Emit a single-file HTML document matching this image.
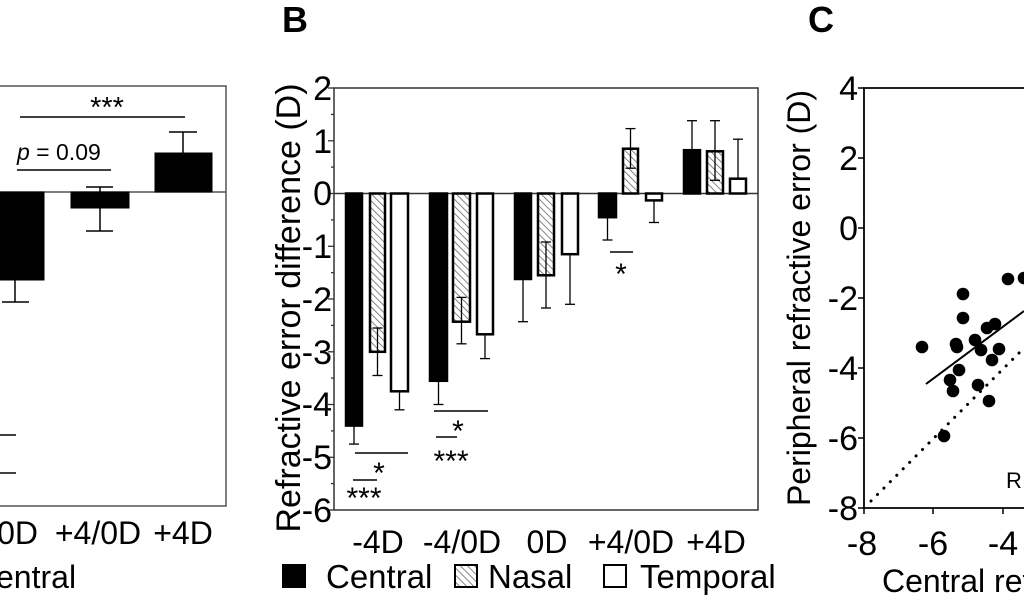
<!DOCTYPE html>
<html><head><meta charset="utf-8"><style>
html,body{margin:0;padding:0;background:#fff;}
svg{display:block;font-family:"Liberation Sans",Arial,sans-serif;}
</style></head><body>
<svg width="1024" height="600" viewBox="0 0 1024 600" xmlns="http://www.w3.org/2000/svg">
<defs>
<pattern id="h" patternUnits="userSpaceOnUse" width="5" height="5" patternTransform="rotate(-45)">
<rect width="5" height="5" fill="#fff"/><line x1="0" y1="0" x2="0" y2="5" stroke="#666" stroke-width="1.6"/>
</pattern>
</defs>
<rect width="1024" height="600" fill="#fff"/>

<!-- Panel A -->
<g stroke="#555" stroke-width="1.5" fill="none">
<polyline points="0,86 226,86 226,506 0,506"/>
<line x1="0" y1="192" x2="226" y2="192"/>
</g>
<g fill="#000" stroke="#000">
<rect x="0" y="192" width="44" height="88"/>
<rect x="71" y="192" width="58" height="16"/>
<rect x="155" y="153" width="57" height="39"/>
</g>
<g stroke="#000" stroke-width="1.5">
<line x1="15" y1="280" x2="15" y2="302"/><line x1="2" y1="302" x2="29" y2="302"/>
<line x1="100" y1="208" x2="100" y2="231"/><line x1="86" y1="231" x2="113" y2="231"/>
<line x1="100" y1="192" x2="100" y2="187"/><line x1="86" y1="187" x2="113" y2="187"/>
<line x1="183" y1="153" x2="183" y2="132"/><line x1="169" y1="132" x2="197" y2="132"/>
<line x1="20" y1="117" x2="185" y2="117"/>
<line x1="17" y1="170" x2="111" y2="170"/>
<line x1="0" y1="435" x2="16" y2="435"/>
<line x1="0" y1="473" x2="16" y2="473"/>
</g>
<text x="107" y="117" font-size="29" text-anchor="middle">***</text>
<text x="17" y="160" font-size="23"><tspan font-style="italic">p</tspan> = 0.09</text>
<text x="38" y="544" font-size="32" text-anchor="end">0D</text>
<text x="98" y="544" font-size="32" text-anchor="middle">+4/0D</text>
<text x="183" y="544" font-size="32" text-anchor="middle">+4D</text>
<text x="-4" y="588" font-size="32">entral</text>

<!-- Panel B -->
<text x="282" y="32" font-size="36" font-weight="bold">B</text>
<g stroke="#333" stroke-width="1.5" fill="none">
<rect x="334" y="88" width="424" height="422"/>
<line x1="334" y1="193.5" x2="758" y2="193.5"/>
</g>
<g stroke="#333" stroke-width="1.3">
<line x1="328" y1="88" x2="334" y2="88"/><line x1="331" y1="114.4" x2="334" y2="114.4"/>
<line x1="328" y1="140.8" x2="334" y2="140.8"/><line x1="331" y1="167.1" x2="334" y2="167.1"/>
<line x1="328" y1="193.5" x2="334" y2="193.5"/><line x1="331" y1="219.9" x2="334" y2="219.9"/>
<line x1="328" y1="246.3" x2="334" y2="246.3"/><line x1="331" y1="272.6" x2="334" y2="272.6"/>
<line x1="328" y1="299" x2="334" y2="299"/><line x1="331" y1="325.4" x2="334" y2="325.4"/>
<line x1="328" y1="351.8" x2="334" y2="351.8"/><line x1="331" y1="378.1" x2="334" y2="378.1"/>
<line x1="328" y1="404.5" x2="334" y2="404.5"/><line x1="331" y1="430.9" x2="334" y2="430.9"/>
<line x1="328" y1="457.3" x2="334" y2="457.3"/><line x1="331" y1="483.6" x2="334" y2="483.6"/>
<line x1="328" y1="510" x2="334" y2="510"/>
</g>
<g font-size="34" text-anchor="end">
<text x="332" y="100">2</text><text x="332" y="153">1</text><text x="332" y="205">0</text>
<text x="332" y="258">-1</text><text x="332" y="311">-2</text><text x="332" y="364">-3</text>
<text x="332" y="416">-4</text><text x="332" y="469">-5</text><text x="332" y="522">-6</text>
</g>
<text transform="translate(300,308) rotate(-90)" font-size="34" text-anchor="middle">Refractive error difference (D)</text>

<g stroke="#000" stroke-width="2.5">
<rect x="346" y="193.5" width="16" height="232.1" fill="#000"/>
<rect x="370" y="193.5" width="15" height="158.3" fill="url(#h)"/>
<rect x="391" y="193.5" width="17" height="197.8" fill="#fff"/>
<rect x="430" y="193.5" width="17" height="187.3" fill="#000"/>
<rect x="453" y="193.5" width="17" height="128.2" fill="url(#h)"/>
<rect x="477" y="193.5" width="16" height="140.8" fill="#fff"/>
<rect x="515" y="193.5" width="16" height="85.5" fill="#000"/>
<rect x="538" y="193.5" width="16" height="81.8" fill="url(#h)"/>
<rect x="562" y="193.5" width="16" height="60.7" fill="#fff"/>
<rect x="599" y="193.5" width="17" height="23.7" fill="#000"/>
<rect x="623" y="148.7" width="15" height="44.8" fill="url(#h)"/>
<rect x="646" y="193.5" width="16" height="6.9" fill="#fff"/>
<rect x="684" y="150.2" width="16" height="43.3" fill="#000"/>
<rect x="707" y="151.3" width="16" height="42.2" fill="url(#h)"/>
<rect x="730" y="178.7" width="16" height="14.8" fill="#fff"/>
</g>
<g stroke="#000" stroke-width="1.3">
<line x1="354" y1="425.6" x2="354" y2="444.1"/><line x1="349" y1="444.1" x2="359" y2="444.1"/>
<line x1="377.5" y1="328" x2="377.5" y2="375.5"/><line x1="372.5" y1="328" x2="382.5" y2="328"/><line x1="372.5" y1="375.5" x2="382.5" y2="375.5"/>
<line x1="399.5" y1="391.3" x2="399.5" y2="409.8"/><line x1="394.5" y1="409.8" x2="404.5" y2="409.8"/>
<line x1="438.5" y1="380.8" x2="438.5" y2="404.5"/><line x1="433.5" y1="404.5" x2="443.5" y2="404.5"/>
<line x1="461.5" y1="297.4" x2="461.5" y2="343.8"/><line x1="456.5" y1="297.4" x2="466.5" y2="297.4"/><line x1="456.5" y1="343.8" x2="466.5" y2="343.8"/>
<line x1="485" y1="334.3" x2="485" y2="358.6"/><line x1="480" y1="358.6" x2="490" y2="358.6"/>
<line x1="523" y1="279" x2="523" y2="321.7"/><line x1="518" y1="321.7" x2="528" y2="321.7"/>
<line x1="546" y1="242" x2="546" y2="308"/><line x1="541" y1="242" x2="551" y2="242"/><line x1="541" y1="308" x2="551" y2="308"/>
<line x1="570" y1="254.2" x2="570" y2="304.3"/><line x1="565" y1="304.3" x2="575" y2="304.3"/>
<line x1="607.5" y1="217.2" x2="607.5" y2="240"/><line x1="602.5" y1="240" x2="612.5" y2="240"/>
<line x1="630.5" y1="128.6" x2="630.5" y2="168.2"/><line x1="625.5" y1="128.6" x2="635.5" y2="128.6"/><line x1="625.5" y1="168.2" x2="635.5" y2="168.2"/>
<line x1="654" y1="200.4" x2="654" y2="222.5"/><line x1="649" y1="222.5" x2="659" y2="222.5"/>
<line x1="692" y1="150.2" x2="692" y2="120.7"/><line x1="687" y1="120.7" x2="697" y2="120.7"/>
<line x1="715" y1="120.7" x2="715" y2="180.3"/><line x1="710" y1="120.7" x2="720" y2="120.7"/><line x1="710" y1="180.3" x2="720" y2="180.3"/>
<line x1="738" y1="178.7" x2="738" y2="139.2"/><line x1="733" y1="139.2" x2="743" y2="139.2"/>
</g>
<g stroke="#000" stroke-width="1.6">
<line x1="355" y1="453" x2="408" y2="453"/><line x1="353" y1="480" x2="377" y2="480"/>
<line x1="434" y1="411" x2="488" y2="411"/><line x1="436" y1="437" x2="457" y2="437"/>
<line x1="610" y1="252" x2="633" y2="252"/>
</g>
<g font-size="30" text-anchor="middle">
<text x="379" y="483">*</text><text x="364" y="508">***</text>
<text x="458" y="441">*</text><text x="451" y="471">***</text>
<text x="621" y="284">*</text>
</g>
<g font-size="32" text-anchor="middle">
<text x="378" y="553">-4D</text><text x="462" y="553">-4/0D</text><text x="547" y="553">0D</text>
<text x="631" y="553">+4/0D</text><text x="716" y="553">+4D</text>
</g>
<rect x="283" y="565" width="22" height="22" fill="#000" stroke="#000" stroke-width="2"/>
<text x="326" y="588" font-size="33">Central</text>
<rect x="455" y="565" width="22" height="22" fill="url(#h)" stroke="#000" stroke-width="2"/>
<text x="488" y="588" font-size="33">Nasal</text>
<rect x="604" y="565" width="22" height="22" fill="#fff" stroke="#000" stroke-width="2"/>
<text x="640" y="588" font-size="33">Temporal</text>

<!-- Panel C -->
<text x="808" y="32" font-size="36" font-weight="bold">C</text>
<g stroke="#000" stroke-width="1.8" fill="none">
<polyline points="1024,88 864,88 864,508 1024,508"/>
</g>
<g stroke="#000" stroke-width="1.5">
<line x1="858" y1="88" x2="864" y2="88"/><line x1="858" y1="158" x2="864" y2="158"/>
<line x1="858" y1="228" x2="864" y2="228"/><line x1="858" y1="298" x2="864" y2="298"/>
<line x1="858" y1="368" x2="864" y2="368"/><line x1="858" y1="438" x2="864" y2="438"/>
<line x1="858" y1="508" x2="864" y2="508"/>
<line x1="864" y1="508" x2="864" y2="514"/><line x1="933" y1="508" x2="933" y2="514"/><line x1="1003" y1="508" x2="1003" y2="514"/>
</g>
<g font-size="34" text-anchor="end">
<text x="858" y="100">4</text><text x="858" y="170">2</text><text x="858" y="240">0</text>
<text x="858" y="310">-2</text><text x="858" y="380">-4</text><text x="858" y="450">-6</text>
<text x="858" y="520">-8</text>
</g>
<g font-size="34" text-anchor="middle">
<text x="862" y="555">-8</text><text x="933" y="555">-6</text><text x="1003" y="555">-4</text>
</g>
<text transform="translate(810,298) rotate(-90)" font-size="32" text-anchor="middle">Peripheral refractive error (D)</text>
<text x="882" y="592" font-size="32">Central refractive error (D)</text>
<text x="1006" y="488" font-size="22">R</text>
<line x1="871" y1="501" x2="1024" y2="348" stroke="#000" stroke-width="3" stroke-dasharray="0.1 9" stroke-linecap="round"/>
<line x1="926" y1="384" x2="1024" y2="311" stroke="#000" stroke-width="2"/>
<g fill="#000">
<circle cx="922" cy="347" r="6.3"/><circle cx="963" cy="294" r="6.3"/><circle cx="963" cy="318" r="6.3"/>
<circle cx="956" cy="344" r="6.3"/><circle cx="957" cy="347" r="6.3"/><circle cx="959" cy="370" r="6.3"/>
<circle cx="950" cy="380" r="6.3"/><circle cx="953" cy="391" r="6.3"/><circle cx="975" cy="340" r="6.3"/>
<circle cx="981" cy="350" r="6.3"/><circle cx="987" cy="328" r="6.3"/><circle cx="995" cy="324" r="6.3"/>
<circle cx="999" cy="349" r="6.3"/><circle cx="992" cy="360" r="6.3"/><circle cx="978" cy="385" r="6.3"/>
<circle cx="989" cy="401" r="6.3"/><circle cx="1008" cy="279" r="6.3"/><circle cx="944" cy="436" r="6.3"/>
<circle cx="1024" cy="278" r="6.3"/>
</g>
</svg>
</body></html>
